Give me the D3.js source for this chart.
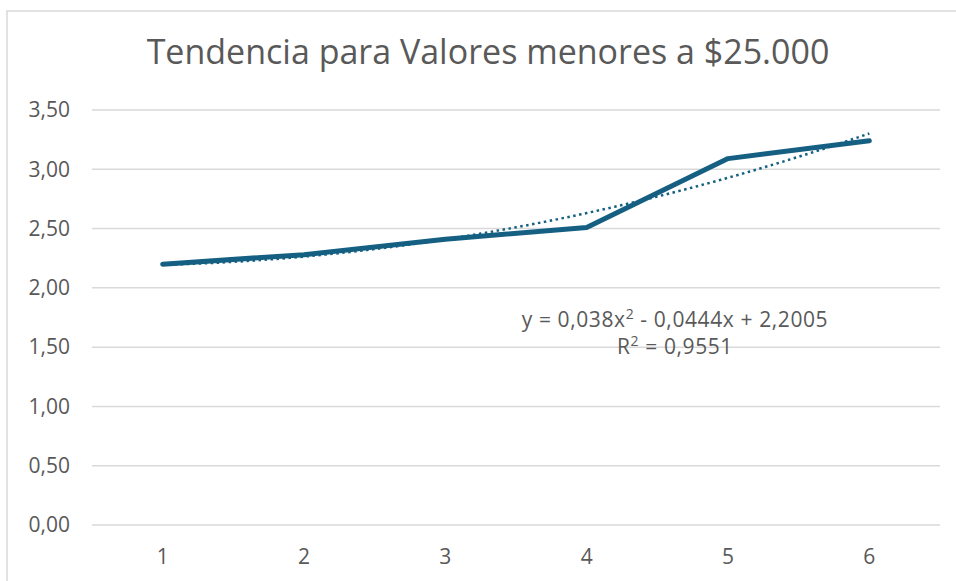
<!DOCTYPE html>
<html>
<head>
<meta charset="utf-8">
<script src="https://cdn.jsdelivr.net/npm/d3@7"></script>
<style>
  body { margin: 0; background: #fff; }
  svg { display: block; }
</style>
</head>
<body>
<svg id="chart"></svg>
<script>
// ---------- data
let categories = [1, 2, 3, 4, 5, 6]
let values = [2.20, 2.28, 2.41, 2.51, 3.09, 3.24]
let yTicks = [0, 0.5, 1, 1.5, 2, 2.5, 3, 3.5]
// coeficientes de la linea de tendencia polinomica (c, b, a) -> a*x^2 + b*x + c
let trendCoef = [2.2005, -0.0444, 0.038]
let trendR2 = '0,9551'
let title = 'Tendencia para Valores menores a $25.000'

// ---------- layout
let W = 956
let H = 581
let plot = {left: 92, right: 940, top: 110, bottom: 525}
let font = '"Open Sans", "Liberation Sans", sans-serif'
let txtColor = '#595959'
let lineColor = '#156082'

let svg = d3.select('#chart')
	.attr('width', W)
	.attr('height', H)

// marco del grafico (solo se ve borde izq y sup)
svg.append('path')
	.attr('d', `M 7 ${H} L 7 11 L ${W} 11`)
	.attr('fill', 'none')
	.attr('stroke', '#d9d9d9')
	.attr('stroke-width', 1.5)

let x = d3.scaleBand()
	.domain(categories)
	.range([plot.left, plot.right])

let y = d3.scaleLinear()
	.domain([0, 3.5])
	.range([plot.bottom, plot.top])

let fmt = d => d3.format('.2f')(d).replace('.', ',')

// grid
svg.append('g')
	.selectAll('line').data(yTicks)
	.enter()
	.append('line')
	.attr('x1', plot.left)
	.attr('x2', plot.right)
	.attr('y1', d => y(d))
	.attr('y2', d => y(d))
	.attr('stroke', '#d9d9d9')
	.attr('stroke-width', 1.5)

// eje y
let yAxis = svg.append('g')
	.attr('transform', `translate(${plot.left},0)`)
	.call(d3.axisLeft(y).tickValues(yTicks).tickFormat(fmt).tickSize(0).tickPadding(22))
yAxis.select('.domain').remove()
yAxis.selectAll('text')
	.attr('font-family', font)
	.attr('font-size', '21px')
	.attr('fill', txtColor)

// eje x
let xAxis = svg.append('g')
	.attr('transform', `translate(0,${plot.bottom})`)
	.call(d3.axisBottom(x).tickSize(0).tickPadding(24))
xAxis.select('.domain').remove()
xAxis.selectAll('text')
	.attr('font-family', font)
	.attr('font-size', '21px')
	.attr('fill', txtColor)

let cx = d => x(d) + x.bandwidth()/2

// serie
let line = d3.line()
	.x((d, i) => cx(categories[i]))
	.y(d => y(d))

svg.append('path')
	.datum(values)
	.attr('d', line)
	.attr('fill', 'none')
	.attr('stroke', lineColor)
	.attr('stroke-width', 5)
	.attr('stroke-linejoin', 'round')
	.attr('stroke-linecap', 'round')

// tendencia
let xs = d3.scaleLinear().domain([1, 6]).range([cx(1), cx(6)])
let poly = t => trendCoef[0] + trendCoef[1]*t + trendCoef[2]*t*t
let tPts = d3.range(1, 6.001, 0.05)

svg.append('path')
	.datum(tPts)
	.attr('d', d3.line().x(t => xs(t)).y(t => y(poly(t))))
	.attr('fill', 'none')
	.attr('stroke', lineColor)
	.attr('stroke-width', 2.5)
	.attr('stroke-dasharray', '2.5 3.5')

// ecuacion
let eq = svg.append('text')
	.attr('x', 675)
	.attr('y', 327)
	.attr('text-anchor', 'middle')
	.attr('font-family', font)
	.attr('font-size', '21px')
	.attr('letter-spacing', '0.6px')
	.attr('fill', txtColor)
eq.append('tspan').text('y = 0,038x')
eq.append('tspan').text('2').attr('dy', -8).attr('font-size', '14px')
eq.append('tspan').text(' - 0,0444x + 2,2005').attr('dy', 8)

let r2 = svg.append('text')
	.attr('x', 675)
	.attr('y', 354)
	.attr('text-anchor', 'middle')
	.attr('font-family', font)
	.attr('font-size', '21px')
	.attr('letter-spacing', '0.6px')
	.attr('fill', txtColor)
r2.append('tspan').text('R')
r2.append('tspan').text('2').attr('dy', -8).attr('font-size', '14px')
r2.append('tspan').text(' = ' + trendR2).attr('dy', 8)

// titulo
svg.append('text')
	.attr('x', 488)
	.attr('y', 64)
	.attr('text-anchor', 'middle')
	.attr('font-family', font)
	.attr('font-size', '34px')
	.attr('fill', txtColor)
	.text(title)
</script>
</body>
</html>
